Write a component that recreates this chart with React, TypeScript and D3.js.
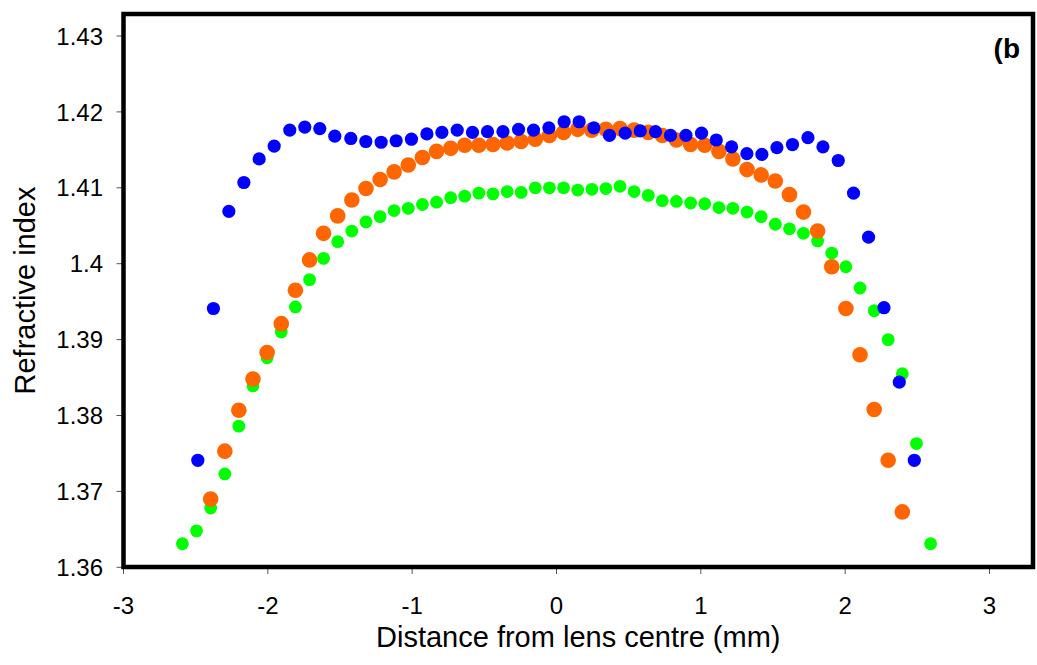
import React from 'react'
import * as d3 from 'd3'

// values (distance in mm, refractive index)
const blueX = [-2.485, -2.377, -2.270, -2.166, -2.060, -1.956, -1.848, -1.744, -1.640, -1.536, -1.425, -1.321, -1.215, -1.111, -1.005, -0.898, -0.794, -0.688, -0.582, -0.478, -0.371, -0.263, -0.159, -0.053, 0.053, 0.157, 0.259, 0.367, 0.476, 0.580, 0.686, 0.790, 0.897, 1.005, 1.107, 1.213, 1.319, 1.423, 1.527, 1.635, 1.742, 1.846, 1.952, 2.058, 2.162, 2.269, 2.375, 2.479]
const blueY = [1.3741, 1.3941, 1.4069, 1.4107, 1.4138, 1.4155, 1.4176, 1.4180, 1.4178, 1.4168, 1.4165, 1.4161, 1.4160, 1.4162, 1.4164, 1.4171, 1.4173, 1.4176, 1.4173, 1.4174, 1.4174, 1.4177, 1.4176, 1.4179, 1.4187, 1.4187, 1.4179, 1.4169, 1.4172, 1.4175, 1.4174, 1.4169, 1.4169, 1.4172, 1.4163, 1.4154, 1.4145, 1.4144, 1.4153, 1.4157, 1.4166, 1.4154, 1.4136, 1.4093, 1.4035, 1.3942, 1.3844, 1.3741]

const orangeX = [-2.396, -2.298, -2.201, -2.103, -2.005, -1.907, -1.809, -1.711, -1.614, -1.516, -1.418, -1.320, -1.222, -1.125, -1.027, -0.929, -0.831, -0.733, -0.636, -0.538, -0.440, -0.342, -0.245, -0.147, -0.049, 0.049, 0.147, 0.245, 0.342, 0.440, 0.538, 0.636, 0.733, 0.831, 0.929, 1.027, 1.125, 1.222, 1.320, 1.418, 1.516, 1.614, 1.711, 1.809, 1.907, 2.005, 2.103, 2.201, 2.298, 2.396]
const orangeY = [1.3690, 1.3753, 1.3807, 1.3848, 1.3883, 1.3921, 1.3965, 1.4005, 1.4040, 1.4063, 1.4084, 1.4099, 1.4111, 1.4121, 1.4130, 1.4140, 1.4148, 1.4152, 1.4156, 1.4156, 1.4157, 1.4159, 1.4161, 1.4164, 1.4169, 1.4173, 1.4177, 1.4176, 1.4177, 1.4178, 1.4176, 1.4173, 1.4169, 1.4163, 1.4157, 1.4156, 1.4148, 1.4138, 1.4124, 1.4117, 1.4109, 1.4091, 1.4068, 1.4043, 1.3996, 1.3941, 1.3880, 1.3808, 1.3741, 1.3673]

const greenX = [-2.592, -2.494, -2.396, -2.298, -2.201, -2.103, -2.005, -1.907, -1.809, -1.711, -1.614, -1.516, -1.418, -1.320, -1.222, -1.125, -1.027, -0.929, -0.831, -0.733, -0.636, -0.538, -0.440, -0.342, -0.245, -0.147, -0.049, 0.049, 0.147, 0.245, 0.342, 0.440, 0.538, 0.636, 0.733, 0.831, 0.929, 1.027, 1.125, 1.222, 1.320, 1.418, 1.516, 1.614, 1.711, 1.809, 1.907, 2.005, 2.103, 2.201, 2.298, 2.396, 2.494, 2.592]
const greenY = [1.3631, 1.3648, 1.3678, 1.3723, 1.3786, 1.3839, 1.3876, 1.3910, 1.3943, 1.3979, 1.4007, 1.4029, 1.4043, 1.4055, 1.4062, 1.4070, 1.4073, 1.4078, 1.4081, 1.4087, 1.4089, 1.4093, 1.4092, 1.4095, 1.4094, 1.4100, 1.4100, 1.4100, 1.4097, 1.4098, 1.4099, 1.4102, 1.4095, 1.4090, 1.4083, 1.4082, 1.4080, 1.4079, 1.4074, 1.4073, 1.4068, 1.4062, 1.4052, 1.4046, 1.4040, 1.4030, 1.4014, 1.3996, 1.3968, 1.3938, 1.3900, 1.3855, 1.3763, 1.3631]

const xTicks = [-3, -2, -1, 0, 1, 2, 3]
const xTickLabels = ['-3', '-2', '-1', '0', '1', '2', '3']
const yTicks = [1.36, 1.37, 1.38, 1.39, 1.40, 1.41, 1.42, 1.43]
const yTickLabels = ['1.36', '1.37', '1.38', '1.39', '1.4', '1.41', '1.42', '1.43']

const W = 1037, H = 665
const frame = { left: 123.5, top: 14, right: 1033, bottom: 567 }
const font = 'Liberation Sans, Arial, Helvetica, sans-serif'

const x = d3.scaleLinear().domain([-3, 3]).range([123.5, 989.5])
const y = d3.scaleLinear().domain([1.36, 1.43]).range([567.3, 36])

const series = [
  { name: 'green', xs: greenX, ys: greenY, color: '#00ff00', r: 6.4 },
  { name: 'orange', xs: orangeX, ys: orangeY, color: '#ff6600', r: 7.8 },
  { name: 'blue', xs: blueX, ys: blueY, color: '#0000ff', r: 6.6 },
]

export default function App() {
  return (
    <svg width={W} height={H} style={{ position: 'absolute', left: 0, top: 0, background: '#fff' }} fontFamily={font}>
      <rect x={0} y={0} width={W} height={H} fill="#fff" />

      {/* ticks */}
      <g stroke="#555" strokeWidth={1}>
        {xTicks.map(t => (
          <line key={'xt' + t} x1={x(t)} x2={x(t)} y1={frame.bottom} y2={frame.bottom + 7} />
        ))}
        {yTicks.map(t => (
          <line key={'yt' + t} x1={frame.left - 7} x2={frame.left} y1={y(t)} y2={y(t)} />
        ))}
      </g>

      <g fontSize={24} fill="#000">
        {xTicks.map((t, i) => (
          <text key={'xl' + t} x={x(t)} y={614} textAnchor="middle">{xTickLabels[i]}</text>
        ))}
        {yTicks.map((t, i) => (
          <text key={'yl' + t} x={103} y={y(t)} dy="0.36em" textAnchor="end">{yTickLabels[i]}</text>
        ))}
      </g>

      {/* points */}
      {series.map(s => (
        <g key={s.name} fill={s.color}>
          {s.xs.map((v, i) => (
            <circle key={i} cx={x(v)} cy={y(s.ys[i])} r={s.r} />
          ))}
        </g>
      ))}

      {/* frame */}
      <rect x={frame.left} y={frame.top} width={frame.right - frame.left} height={frame.bottom - frame.top}
        fill="none" stroke="#000" strokeWidth={4.5} />

      <text x={1020} y={58} fontSize={28} fontWeight="bold" textAnchor="end">(b</text>

      <text x={(frame.left + frame.right) / 2} y={647} fontSize={29} textAnchor="middle">Distance from lens centre (mm)</text>
      <text transform={`translate(35,${(frame.top + frame.bottom) / 2}) rotate(-90)`} fontSize={29} textAnchor="middle">Refractive index</text>
    </svg>
  )
}
